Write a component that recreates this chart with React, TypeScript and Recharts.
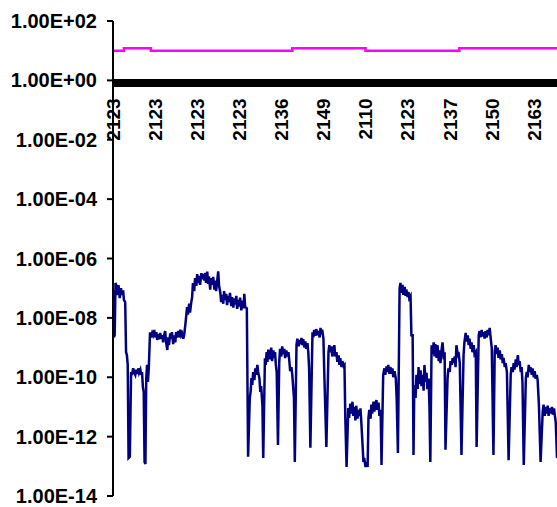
import React from "react";
import { LineChart, Line, XAxis, YAxis, ReferenceLine } from "recharts";

const W = 557;
const H = 507;
const TOP = 21;
const BOTTOM = 10;
const LEFT = 113;

// category labels shown on the axis, one every 100 readings
const tickLabels = ["2123", "2123", "2123", "2123", "2136", "2149", "2110", "2123", "2137", "2150", "2163"];
const tickStep = 100;
const lastIndex = 1055;

const yTicks = [1e2, 1e0, 1e-2, 1e-4, 1e-6, 1e-8, 1e-10, 1e-12, 1e-14];

// magenta series: [reading index, value]
const magenta: [number, number][] = [
  [0, 10], [26, 12], [90, 10], [426, 12], [600, 10], [823, 12], [1055, 12],
];

// black reference series (dense markers)
const baseline: [number, number][] = [
  [0, 0.82], [1055, 0.82],
];

// navy series: [reading index, value]
const navy: [number, number][] = [
  [0, 8.5e-8], [2, 2.2e-9], [4, 2.6e-9], [6, 1.5e-7], [8, 1.26e-7], [11, 5.9e-8], [13, 1.26e-7],
  [16, 4.6e-8], [19, 1.0e-7], [21, 5.9e-8], [24, 8.5e-8], [26, 4.0e-8], [29, 3.4e-8],
  [31, 7.1e-10], [33, 5.6e-10], [35, 2.6e-10], [37, 1.9e-13], [40, 2.1e-13], [43, 1.5e-10],
  [45, 1.2e-10], [48, 2e-10], [50, 1.5e-10], [53, 1.2e-10], [55, 1.8e-10], [58, 1.3e-10],
  [60, 2e-10], [62, 1.4e-10], [65, 1.8e-10], [67, 1.2e-10], [69, 1.5e-10], [71, 4.7e-11],
  [73, 3.2e-11], [75, 1.4e-13], [77, 1.2e-13], [79, 9.4e-11], [81, 2.6e-10], [83, 6.9e-11],
  [85, 2e-10], [88, 3.3e-9], [90, 2.2e-9], [93, 3.1e-9], [95, 2.6e-9], [98, 3.9e-9],
  [100, 2.2e-9], [103, 3.3e-9], [105, 1.8e-9], [107, 2.8e-9], [110, 1.9e-9], [112, 3.1e-9],
  [115, 2.0e-9], [117, 2.6e-9], [119, 1.5e-9], [121, 2.4e-9], [124, 3.6e-9], [126, 1.6e-9],
  [129, 8.3e-10], [131, 2.2e-9], [133, 1.2e-9], [136, 3.0e-9], [138, 2.0e-9], [140, 3.3e-9],
  [143, 1.3e-9], [145, 2.6e-9], [148, 1.5e-9], [150, 3.3e-9], [152, 2.2e-9], [155, 3.6e-9],
  [157, 2.2e-9], [160, 4.0e-9], [162, 2.6e-9], [164, 3.0e-9], [167, 2.0e-9], [169, 2.6e-9],
  [172, 6e-9], [176, 2.3e-8], [178, 1.3e-8], [181, 3e-8], [183, 1.5e-8], [186, 3.4e-8],
  [188, 5e-8], [190, 1.5e-7], [193, 8e-8], [195, 2.2e-7], [198, 1.2e-7], [200, 3e-7],
  [202, 1.5e-7], [205, 2.6e-7], [207, 1.3e-7], [210, 3.2e-7], [212, 2e-7], [214, 3.0e-7],
  [217, 1.8e-7], [219, 3.3e-7], [221, 1.5e-7], [224, 3.6e-7], [226, 1.4e-7], [228, 2.5e-7],
  [231, 9e-8], [233, 2.2e-7], [236, 1.3e-7], [238, 2.4e-7], [241, 9e-8], [243, 1.8e-7],
  [245, 8e-8], [248, 2.0e-7], [250, 3.7e-7], [252, 1.2e-7], [255, 7e-8], [257, 3.4e-8],
  [259, 6e-8], [262, 3.0e-8], [264, 8e-8], [266, 4e-8], [269, 6.5e-8], [271, 2.7e-8],
  [274, 5.5e-8], [276, 3.4e-8], [278, 7e-8], [281, 2.5e-8], [283, 5e-8], [286, 2.2e-8],
  [288, 4.5e-8], [290, 2.8e-8], [293, 5.5e-8], [295, 2.0e-8], [298, 4e-8], [300, 2.4e-8],
  [302, 4.8e-8], [305, 1.8e-8], [307, 3.8e-8], [310, 2.1e-8], [312, 6.5e-8], [314, 2.3e-8],
  [318, 2.1e-8], [321, 2.1e-13], [325, 2e-11], [327, 3.3e-11], [329, 9.4e-11], [331, 5.5e-11],
  [333, 1.5e-10], [336, 8e-11], [338, 2e-10], [340, 1.2e-10], [343, 2.6e-10], [345, 1.5e-10],
  [348, 9e-11], [350, 3.2e-11], [352, 5e-11], [355, 1.15e-11], [357, 1.9e-13], [361, 4.4e-10],
  [363, 2.6e-10], [365, 7e-10], [367, 3.3e-10], [369, 8.5e-10], [372, 4e-10], [374, 6e-10],
  [376, 1e-9], [378, 3.5e-10], [381, 8e-10], [383, 4.5e-10], [385, 7e-10], [387, 2.6e-10],
  [389, 1.5e-10], [392, 5.2e-13], [395, 3.3e-10], [397, 9e-10], [400, 5e-10], [402, 1.1e-9],
  [405, 6e-10], [407, 9e-10], [409, 4.4e-10], [412, 8e-10], [414, 5e-10], [417, 7e-10],
  [419, 3.5e-10], [421, 1.6e-10], [424, 2.2e-10], [426, 1.2e-10], [430, 2e-11], [432, 1.4e-13],
  [436, 1.2e-9], [438, 2e-9], [441, 1.1e-9], [443, 1.8e-9], [445, 1.3e-9], [448, 2.1e-9],
  [450, 1.2e-9], [452, 1.9e-9], [455, 1.0e-9], [457, 1.6e-9], [459, 9e-10], [462, 1.4e-9],
  [464, 7e-10], [466, 2e-10], [469, 4.2e-13], [474, 3.3e-9], [476, 2.2e-9], [478, 3.9e-9],
  [481, 2.5e-9], [483, 4.2e-9], [486, 2.6e-9], [488, 3.6e-9], [491, 2.2e-9], [493, 4.6e-9],
  [495, 2.8e-9], [497, 4.0e-9], [500, 2.0e-9], [502, 1.5e-10], [507, 4.5e-13], [512, 7.1e-10],
  [514, 1.2e-9], [516, 7e-10], [519, 1.1e-9], [521, 5e-10], [524, 8e-10], [526, 1.2e-9],
  [528, 5e-10], [531, 7e-10], [533, 3.3e-10], [536, 5.5e-10], [538, 2.6e-10], [540, 4.4e-10],
  [543, 2.2e-10], [545, 3.5e-10], [548, 2.4e-10], [550, 2.6e-10], [552, 4.3e-12], [555, 9.5e-14],
  [559, 9.2e-12], [561, 4.3e-12], [564, 1.3e-11], [566, 6e-12], [569, 1.5e-11], [571, 5e-12],
  [574, 1e-11], [576, 3.5e-12], [578, 1.1e-11], [581, 4e-12], [583, 8e-12], [586, 5e-12],
  [588, 9e-12], [590, 3.1e-12], [593, 5.2e-13], [595, 1.4e-13], [597, 1.9e-13], [600, 9.5e-14],
  [602, 1.4e-13], [605, 9.5e-14], [607, 4.3e-12], [609, 8e-12], [612, 4e-12], [614, 1.2e-11],
  [616, 6e-12], [619, 1.5e-11], [621, 7e-12], [624, 1.3e-11], [626, 1.7e-11], [628, 8e-12],
  [631, 1.4e-11], [633, 5e-12], [636, 8e-12], [638, 1.1e-13], [642, 1.2e-10], [645, 2e-10],
  [647, 1.2e-10], [650, 2.3e-10], [652, 1.5e-10], [654, 2.6e-10], [657, 1.3e-10], [659, 2.2e-10],
  [662, 1.3e-10], [664, 2e-10], [666, 1.0e-10], [669, 1.6e-10], [672, 9e-11], [674, 2e-11],
  [677, 2.8e-13], [681, 1.0e-7], [683, 1.5e-7], [685, 7e-8], [688, 1.3e-7], [690, 6e-8],
  [693, 1.1e-7], [695, 5.5e-8], [697, 9e-8], [700, 5e-8], [702, 7.5e-8], [704, 4.6e-8],
  [707, 5.5e-8], [709, 2.6e-9], [712, 2.6e-9], [714, 2.4e-13], [716, 5.5e-11], [719, 2e-11],
  [721, 1.2e-10], [724, 4e-11], [726, 2.2e-10], [728, 6e-11], [731, 1.7e-10], [733, 5e-11],
  [736, 1.2e-10], [738, 3.5e-11], [740, 2.6e-10], [743, 7e-11], [745, 1.4e-10], [747, 4e-11],
  [750, 9e-11], [752, 9.2e-12], [754, 1.4e-13], [757, 1.2e-9], [759, 6e-10], [762, 1.5e-9],
  [764, 5e-10], [766, 1.3e-9], [769, 4.5e-10], [771, 1.2e-9], [774, 3.5e-10], [776, 8e-10],
  [778, 3e-10], [781, 9e-10], [783, 1.5e-9], [786, 4e-10], [788, 7e-10], [790, 3.6e-13],
  [795, 9.4e-11], [797, 2e-10], [800, 1.5e-10], [802, 3.5e-10], [805, 2.6e-10], [807, 4.4e-10],
  [809, 3e-10], [812, 5e-10], [814, 2.2e-10], [816, 1.2e-9], [819, 6e-10], [821, 7.1e-10],
  [824, 3e-10], [828, 2.4e-13], [833, 5.6e-10], [835, 1.5e-9], [838, 3.1e-9], [840, 1.6e-9],
  [843, 2.6e-9], [845, 1.2e-9], [847, 2e-9], [850, 9e-10], [852, 1.5e-9], [854, 7e-10],
  [857, 1.2e-9], [859, 6e-10], [862, 7.1e-10], [864, 4.5e-13], [869, 2.6e-9], [871, 3.6e-9],
  [873, 2.2e-9], [876, 3.9e-9], [878, 2.4e-9], [881, 3.3e-9], [883, 2.0e-9], [885, 3.6e-9],
  [888, 2.2e-9], [890, 3.9e-9], [893, 2.6e-9], [895, 4.6e-9], [897, 2.4e-9], [900, 9.6e-10],
  [904, 2.4e-13], [907, 7.1e-10], [909, 1.2e-9], [912, 6e-10], [914, 1.0e-9], [916, 4.5e-10],
  [919, 8e-10], [921, 4e-10], [924, 6e-10], [926, 3e-10], [928, 4.5e-10], [931, 2.2e-10],
  [933, 3e-10], [936, 1.5e-10], [940, 1.6e-13], [945, 1.2e-10], [947, 2.2e-10], [950, 1.5e-10],
  [952, 3e-10], [954, 1.8e-10], [957, 4e-10], [959, 2.2e-10], [962, 5.6e-10], [964, 2.6e-10],
  [966, 3.5e-10], [969, 1.5e-10], [971, 2.2e-10], [973, 6.4e-11], [976, 1.1e-13], [981, 9.4e-11],
  [983, 1.5e-10], [985, 1e-10], [988, 2.6e-10], [990, 1.5e-10], [992, 2.2e-10], [995, 1.2e-10],
  [997, 2e-10], [1000, 1.0e-10], [1002, 1.6e-10], [1004, 9e-11], [1007, 1.2e-10], [1009, 8e-11],
  [1012, 1.2e-11], [1016, 1.4e-13], [1021, 6.7e-12], [1023, 1.2e-11], [1026, 5e-12], [1028, 1e-11],
  [1031, 6e-12], [1033, 1.1e-11], [1035, 5e-12], [1038, 9e-12], [1040, 6e-12], [1043, 1e-11],
  [1045, 5.5e-12], [1048, 9e-12], [1050, 5e-12], [1052, 3.1e-12], [1055, 1.9e-13],
];

const toRows = (pts: [number, number][]) => pts.map(([x, y]) => ({ x, y }));

const fmt = (v: number) => {
  const [m, e] = v.toExponential(2).split("e");
  const n = Number(e);
  return `${m}E${n < 0 ? "-" : "+"}${String(Math.abs(n)).padStart(2, "0")}`;
};

const font = "'Liberation Sans', Arial, Helvetica, sans-serif";
const plotH = H - TOP - BOTTOM - 1;
// y of the value 1 line: 2 decades below the top of a 16-decade axis
const oneY = TOP + (plotH * 2) / 16;

const renderXTick = (props: any) => {
  const { x, payload } = props;
  const ty = oneY + 18;
  return (
    <text
      key={`xt-${payload.value}`}
      x={x}
      y={ty}
      transform={`rotate(-90, ${x}, ${ty})`}
      textAnchor="end"
      dy="0.36em"
      fontFamily={font}
      fontWeight="bold"
      fontSize={19}
      fill="#000"
    >
      {tickLabels[Math.round(payload.value / tickStep)]}
    </text>
  );
};

export default function App() {
  const xTicks = tickLabels.map((_, i) => i * tickStep);
  return (
    <div style={{ position: "absolute", left: 0, top: 0, width: W, height: H, background: "#fff" }}>
      <LineChart width={W} height={H} margin={{ top: TOP, right: 0, bottom: BOTTOM, left: 0 }}>
        <XAxis
          type="number"
          dataKey="x"
          domain={[0, lastIndex]}
          ticks={xTicks}
          allowDataOverflow
          axisLine={false}
          tickLine={false}
          height={1}
          tick={renderXTick}
          interval={0}
        />
        <YAxis
          scale="log"
          domain={[1e-14, 100]}
          ticks={yTicks}
          allowDataOverflow
          width={LEFT}
          interval={0}
          tickFormatter={fmt}
          axisLine={{ stroke: "#000", strokeWidth: 2 }}
          tickLine={{ stroke: "#000", strokeWidth: 2 }}
          tickSize={6}
          tickMargin={10}
          tick={{ fill: "#000", fontSize: 20, fontWeight: "bold", fontFamily: font }}
        />
        <ReferenceLine y={1} stroke="#000" strokeWidth={2} />
        <Line
          data={toRows(baseline)}
          dataKey="y"
          stroke="#000"
          strokeWidth={8}
          dot={false}
          isAnimationActive={false}
        />
        <Line
          data={toRows(magenta)}
          dataKey="y"
          type="stepAfter"
          stroke="#FF00FF"
          strokeWidth={2.5}
          dot={false}
          isAnimationActive={false}
        />
        <Line
          data={toRows(navy)}
          dataKey="y"
          type="linear"
          stroke="#000080"
          strokeWidth={2.5}
          dot={false}
          isAnimationActive={false}
        />
      </LineChart>
    </div>
  );
}
